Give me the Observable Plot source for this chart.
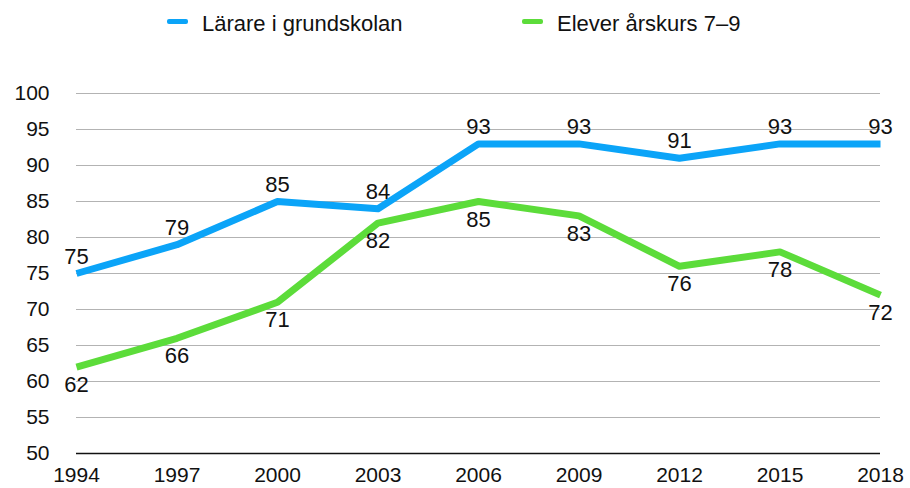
<!DOCTYPE html>
<html><head><meta charset="utf-8">
<script src="https://cdn.jsdelivr.net/npm/d3@7"></script>
<script src="https://cdn.jsdelivr.net/npm/@observablehq/plot@0.6"></script>
<style>
body{margin:0;background:#fff;font-family:"Liberation Sans",Arial,sans-serif;}
#legend{height:50px;position:relative;font-size:22px;color:#111;}
.sw{position:absolute;top:19px;width:21px;height:5px;border-radius:2px;}
.lt{position:absolute;top:11px;line-height:26px;white-space:nowrap;}
</style></head><body>
<div id="legend"></div>
<div id="chart"></div>
<script>
const years = [1994,1997,2000,2003,2006,2009,2012,2015,2018];
const larare = [75,79,85,84,93,93,91,93,93];
const elever = [62,66,71,82,85,83,76,78,72];
const seriesNames = ["Lärare i grundskolan","Elever årskurs 7–9"];
const colors = ["#0ba4f8","#5cdc3a"];
const yTicks = [50,55,60,65,70,75,80,85,90,95,100];

const data = [];
years.forEach((y,i)=>{
  data.push({year:y,value:larare[i],series:seriesNames[0]});
  data.push({year:y,value:elever[i],series:seriesNames[1]});
});

const leg = document.getElementById("legend");
[[167,202,0],[522,557,1]].forEach(([sx,tx,i])=>{
  const s=document.createElement("div");s.className="sw";s.style.left=sx+"px";s.style.background=colors[i];
  const t=document.createElement("div");t.className="lt";t.style.left=tx+"px";t.textContent=seriesNames[i];
  leg.appendChild(s);leg.appendChild(t);
});

const chart = Plot.plot({
  width:910,height:438,
  marginTop:43,marginBottom:35,marginLeft:76,marginRight:30,
  style:{fontFamily:"Liberation Sans, Arial, sans-serif",fontSize:"21px",color:"#111",overflow:"visible"},
  x:{domain:[1994,2018],ticks:years,tickFormat:"d",label:null,tickSize:0,tickPadding:14},
  y:{domain:[50,100],ticks:yTicks,label:null,tickSize:0,tickPadding:27},
  color:{domain:seriesNames,range:colors},
  marks:[
    Plot.ruleY(yTicks.filter(t=>t>50),{stroke:"#b3b3b3",strokeWidth:1}),
    Plot.ruleY([50],{stroke:"#111",strokeWidth:1.5}),
    Plot.line(data,{x:"year",y:"value",z:"series",stroke:"series",strokeWidth:7,strokeLinejoin:"round",strokeLinecap:"butt"}),
    Plot.text(data.filter(d=>d.series===seriesNames[0]),{x:"year",y:"value",text:d=>String(d.value),dy:-17,fontSize:22,fill:"#111"}),
    Plot.text(data.filter(d=>d.series===seriesNames[1]),{x:"year",y:"value",text:d=>String(d.value),dy:18,fontSize:22,fill:"#111"})
  ]
});
document.getElementById("chart").appendChild(chart);
</script>
</body></html>
